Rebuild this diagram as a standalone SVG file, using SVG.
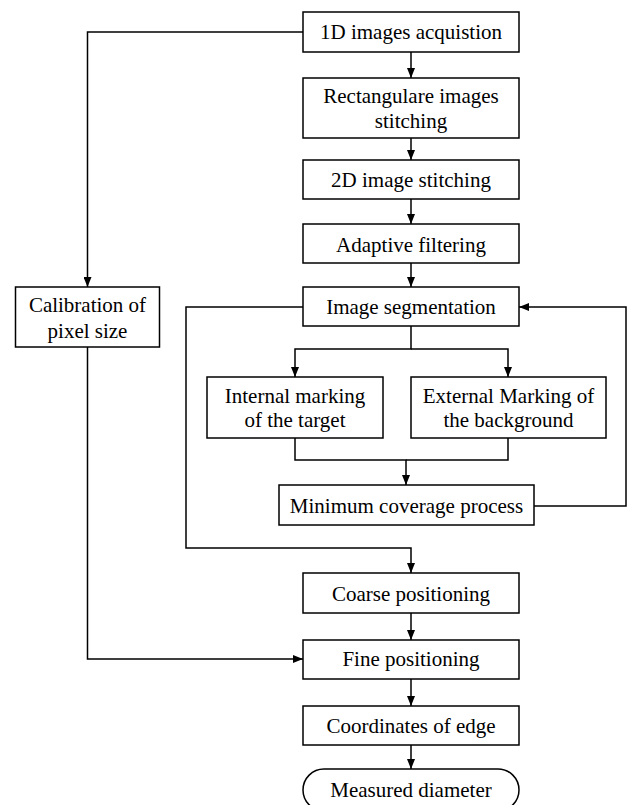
<svg xmlns="http://www.w3.org/2000/svg" width="627" height="805" viewBox="0 0 627 805">
<style>
.box{fill:#fff;stroke:#000;stroke-width:1.5}
.lbl{font-family:"Liberation Serif","Times New Roman",serif;font-size:21px;fill:#000;text-anchor:middle}
.con{fill:none;stroke:#000;stroke-width:1.5}
</style>
<defs>
<marker id="arr" markerUnits="userSpaceOnUse" markerWidth="10" markerHeight="8" refX="10" refY="4" orient="auto">
<path d="M0,0 L10,4 L0,8 z" fill="#000"/>
</marker>
</defs>
<rect width="627" height="805" fill="#fff"/>
<g id="connectors">
<path class="con" d="M411,52 V78" marker-end="url(#arr)"/>
<path class="con" d="M411,138 V160" marker-end="url(#arr)"/>
<path class="con" d="M411,199 V224" marker-end="url(#arr)"/>
<path class="con" d="M411,263 V287" marker-end="url(#arr)"/>
<path class="con" d="M303,32 H87.5 V287" marker-end="url(#arr)"/>
<path class="con" d="M411,326 V349 H295 V377" marker-end="url(#arr)"/>
<path class="con" d="M411,349 H508 V377" marker-end="url(#arr)"/>
<path class="con" d="M295,438 V460 H406 V485" marker-end="url(#arr)"/>
<path class="con" d="M508,438 V460 H406"/>
<path class="con" d="M534,506 H626 V307 H519" marker-end="url(#arr)"/>
<path class="con" d="M303,307 H186 V548 H411 V573" marker-end="url(#arr)"/>
<path class="con" d="M411,613 V640" marker-end="url(#arr)"/>
<path class="con" d="M87.5,347 V659 H303" marker-end="url(#arr)"/>
<path class="con" d="M411,679 V706" marker-end="url(#arr)"/>
<path class="con" d="M411,745 V769" marker-end="url(#arr)"/>
</g>
<g id="n1"><rect class="box" x="303" y="12" width="216" height="40"/><text class="lbl" x="411" y="39">1D images acquistion</text></g>
<g id="n2"><rect class="box" x="303" y="78" width="216" height="60"/><text class="lbl" x="411" y="103">Rectangulare images</text><text class="lbl" x="411" y="128">stitching</text></g>
<g id="n3"><rect class="box" x="303" y="160" width="216" height="39"/><text class="lbl" x="411" y="187">2D image stitching</text></g>
<g id="n4"><rect class="box" x="303" y="224" width="216" height="39"/><text class="lbl" x="411" y="252">Adaptive filtering</text></g>
<g id="n5"><rect class="box" x="303" y="287" width="216" height="39"/><text class="lbl" x="411" y="314">Image segmentation</text></g>
<g id="n6"><rect class="box" x="15.5" y="287" width="144" height="60"/><text class="lbl" x="87.5" y="312">Calibration of</text><text class="lbl" x="87.5" y="338">pixel size</text></g>
<g id="n7"><rect class="box" x="207" y="377" width="176" height="61"/><text class="lbl" x="295" y="403">Internal marking</text><text class="lbl" x="295" y="427">of the target</text></g>
<g id="n8"><rect class="box" x="411" y="377" width="195" height="61"/><text class="lbl" x="508.5" y="403">External Marking of</text><text class="lbl" x="508.5" y="427">the background</text></g>
<g id="n9"><rect class="box" x="279" y="485" width="255" height="40"/><text class="lbl" x="406.5" y="513">Minimum coverage process</text></g>
<g id="n10"><rect class="box" x="303" y="573" width="216" height="40"/><text class="lbl" x="411" y="601">Coarse positioning</text></g>
<g id="n11"><rect class="box" x="303" y="640" width="216" height="39"/><text class="lbl" x="411" y="666">Fine positioning</text></g>
<g id="n12"><rect class="box" x="303" y="706" width="216" height="39"/><text class="lbl" x="411" y="733">Coordinates of edge</text></g>
<g id="n13"><rect class="box" x="303" y="769" width="216" height="42" rx="21" ry="21"/><text class="lbl" x="411" y="797">Measured diameter</text></g>
</svg>
